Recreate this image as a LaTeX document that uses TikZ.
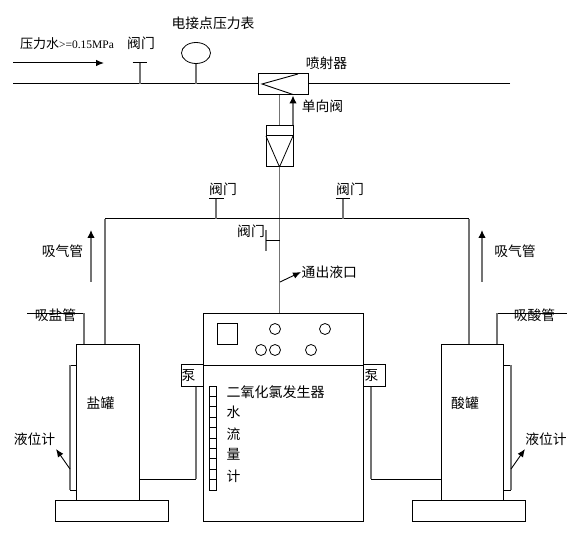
\documentclass[tikz,border=0pt]{standalone}
\usepackage{fontspec}
\setmainfont{Liberation Serif}
\newfontfamily\cjk{Noto Sans CJK SC}
\usetikzlibrary{
    shapes.geometric,
    arrows.meta
}

\begin{document}
\begin{tikzpicture}[
      x=1pt,
      y=-1pt,
      box/.style={draw, line width=1pt, inner sep=0pt, fill=white},
      label/.style={inner sep=0pt, font=\cjk\fontsize{13.8}{14}\selectfont},
      pipe/.style={line width=1pt},
      stem/.style={line width=1.2pt, black!55},
      arrow/.style={-{Latex[length=8pt,width=6.5pt]}, line width=1pt},
      stemarrow/.style={stem, -{Latex[black, length=8pt, width=7.5pt]}},
      dial/.style={draw, circle, line width=0.8pt, minimum size=11pt, inner sep=0pt}
    ]
    \useasboundingbox (0,0) rectangle (584,548);

    % main water line
    \node[box, minimum width=50pt, minimum height=21pt] (inj) at (283,84.5) {};
    \coordinate (pipeL) at (13,84);
    \coordinate (pipeR) at (510,84);
    \draw[pipe] (pipeL) -- (pipeL -| inj.west);
    \draw[pipe] (pipeR) -- (pipeR -| inj.east);
    \coordinate (injA) at (298,74);
    \coordinate (injB) at (262,84);
    \coordinate (injC) at (293,94.5);
    \draw[line width=0.9pt] (injA) -- (injB) -- (injC);

    \coordinate (flowA) at (13,63);
    \coordinate (flowB) at (104,63);
    \draw[arrow] (flowA) -- (flowB);
    \node[inner sep=0pt, font=\fontsize{11.5}{12}\selectfont] (water) at (67,44) {{\cjk\fontsize{13}{14}\selectfont 压力水}>=0.15MPa};

    % valve and gauge on the line
    \coordinate (vA) at (140,63);
    \coordinate (vAl) at (132.5,63);
    \coordinate (vAr) at (147,63);
    \draw[pipe] (vAl) -- (vAr);
    \draw[stem] (vA) -- (vA |- pipeL);
    \node[label] (tvA) at (141,43) {阀门};
    \node[draw, ellipse, line width=0.8pt, minimum width=29pt, minimum height=21pt, inner sep=0pt] (gauge) at (196,53) {};
    \draw[stem] (gauge.south) -- (gauge.south |- pipeL);
    \node[label] (tgauge) at (213,23) {电接点压力表};
    \node[label] (tinj) at (326.5,63) {喷射器};
    \node[label] (tchk) at (322.5,106) {单向阀};

    % check valve
    \node[box, minimum width=27pt, minimum height=41pt] (chk) at (279.5,146.5) {};
    \coordinate (chkL) at (266,136);
    \coordinate (chkR) at (293,136);
    \coordinate (chkB) at (279.5,167);
    \draw[pipe] (chkL) -- (chkR);
    \draw[line width=0.8pt] (chkL) -- (chkB) -- (chkR);
    \draw[stem] (chk.north) -- (chk.north |- inj.south);
    \draw[stemarrow] (chkR |- chk.north) -- (chkR |- inj.south);

    % generator
    \node[box, minimum width=160pt, minimum height=208pt] (gen) at (283,417) {};
    \coordinate (genL) at (203,365);
    \coordinate (genR) at (363,365);
    \draw[pipe] (genL) -- (genR);
    \node[box, minimum width=20pt, minimum height=21pt] (panel) at (227,333.5) {};
    \node[dial] (d1) at (275,329) {};
    \node[dial] (d2) at (325,329) {};
    \node[dial] (d3) at (261,350) {};
    \node[dial] (d4) at (275,350) {};
    \node[dial] (d5) at (311,350) {};
    \node[label, font=\cjk\fontsize{14}{14}\selectfont] (tgen) at (275.5,392) {二氧化氯发生器};
    \node[label] (t1) at (233.5,412) {水};
    \node[label] (t2) at (233.5,434) {流};
    \node[label] (t3) at (233.5,454) {量};
    \node[label] (t4) at (233.5,476) {计};
    \foreach \i in {0,...,9}
      \node[box, line width=0.8pt, minimum width=7.5pt, minimum height=10.4pt] (sc\i) at (213,391.2+\i*10.4) {};

    % outlet line and branches
    \coordinate (mainT) at (279.5,219);
    \draw[stem] (chkB) -- (chkB |- gen.north);
    \coordinate (brL) at (105,219);
    \coordinate (brR) at (469,219);
    \draw[pipe] (brL) -- (brR);
    \coordinate (vB) at (216,199);
    \coordinate (vC) at (343,199);
    \draw[pipe] (209,199) coordinate (vBl) -- (223.5,199) coordinate (vBr);
    \draw[pipe] (335.5,199) coordinate (vCl) -- (350,199) coordinate (vCr);
    \draw[stem] (vB) -- (vB |- brL);
    \draw[stem] (vC) -- (vC |- brL);
    \node[label] (tvB) at (223,189) {阀门};
    \node[label] (tvC) at (350,189) {阀门};
    \coordinate (vDt) at (266,230);
    \coordinate (vDb) at (266,251);
    \draw[stem] (vDt) -- (vDb);
    \coordinate (vD) at (266,240.5);
    \draw[pipe] (vD) -- (vD -| chkB);
    \node[label] (tvD) at (251,231) {阀门};
    \coordinate (outA) at (280,282);
    \coordinate (outB) at (301,272);
    \draw[arrow, line width=0.9pt] (outA) -- (outB);
    \node[label, anchor=west] (tout) at (301.5,272) {通出液口};

    % air lines
    \coordinate (airLa) at (91,282);
    \coordinate (airLb) at (91,230);
    \coordinate (airRa) at (482,282);
    \coordinate (airRb) at (482,230);
    \draw[stemarrow] (airLa) -- (airLb);
    \draw[stemarrow] (airRa) -- (airRb);
    \node[label] (tairL) at (62.5,251) {吸气管};
    \node[label] (tairR) at (515,251) {吸气管};

    % salt tank
    \node[box, minimum width=63pt, minimum height=156pt] (salt) at (107.5,422) {};
    \node[box, minimum width=113pt, minimum height=21pt] (saltb) at (111.5,510.5) {};
    \node[label] (tsalt) at (100.5,403) {盐罐};
    \draw[stem] (brL) -- (brL |- salt.north);
    \coordinate (suckS) at (84,313);
    \coordinate (suckSe) at (27,313);
    \draw[pipe] (suckSe) -- (suckS);
    \draw[stem] (suckS) -- (suckS |- salt.north);
    \node[label] (tsuckS) at (55.5,315) {吸盐管};
    \coordinate (lvlSt) at (70,365);
    \coordinate (lvlSb) at (70,490);
    \draw[pipe] (lvlSt -| salt.west) -- (lvlSt);
    \draw[pipe] (lvlSb -| salt.west) -- (lvlSb);
    \draw[stem] (lvlSt) -- (lvlSb);
    \coordinate (lvlSa) at (70,469);
    \coordinate (lvlSc) at (56,449);
    \draw[arrow, line width=0.9pt] (lvlSa) -- (lvlSc);
    \node[label] (tlvlS) at (34.5,439) {液位计};

    % acid tank
    \node[box, minimum width=62pt, minimum height=156pt] (acid) at (472,422) {};
    \node[box, minimum width=113pt, minimum height=21pt] (acidb) at (468.5,510.5) {};
    \node[label] (tacid) at (465,403) {酸罐};
    \draw[stem] (brR) -- (brR |- acid.north);
    \coordinate (suckA) at (497,313);
    \coordinate (suckAe) at (567,313);
    \draw[pipe] (suckA) -- (suckAe);
    \draw[stem] (suckA) -- (suckA |- acid.north);
    \node[label] (tsuckA) at (534.5,315) {吸酸管};
    \coordinate (lvlAt) at (511,365);
    \coordinate (lvlAb) at (511,490);
    \draw[pipe] (lvlAt -| acid.east) -- (lvlAt);
    \draw[pipe] (lvlAb -| acid.east) -- (lvlAb);
    \draw[stem] (lvlAt) -- (lvlAb);
    \coordinate (lvlAa) at (511,469);
    \coordinate (lvlAc) at (525,449);
    \draw[arrow, line width=0.9pt] (lvlAa) -- (lvlAc);
    \node[label] (tlvlA) at (546,439) {液位计};

    % pumps
    \node[box, minimum width=22pt, minimum height=21.5pt] (pumpL) at (192,375.5) {};
    \node[label, anchor=west] (tpumpL) at (181.5,375.5) {泵};
    \node[box, minimum width=22pt, minimum height=21.5pt] (pumpR) at (374,375.5) {};
    \node[label, anchor=west] (tpumpR) at (364.5,375.5) {泵};
    \coordinate (retL) at (196,479);
    \coordinate (retR) at (371,479);
    \draw[stem] (pumpL.south -| retL) -- (retL);
    \draw[stem] (pumpR.south -| retR) -- (retR);
    \draw[pipe] (retL) -- (retL -| salt.east);
    \draw[pipe] (retR) -- (retR -| acid.west);
  \end{tikzpicture}
\end{document}
